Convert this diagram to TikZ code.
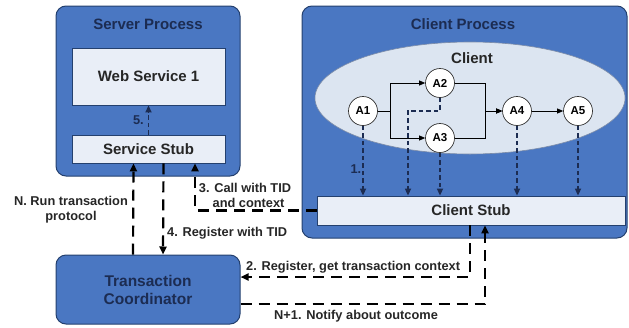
\documentclass[tikz,border=0pt]{standalone}
\usepackage{fontspec}
\setmainfont{Liberation Sans}
\usetikzlibrary{arrows.meta,shapes.geometric}

\definecolor{procblue}{HTML}{4A77C2}
\definecolor{procedge}{HTML}{24406E}
\definecolor{navytext}{HTML}{1C2C52}
\definecolor{paleblue}{HTML}{E9EEF7}
\definecolor{ellblue}{HTML}{DCE5F1}

\tikzset{
  procbox/.style={draw=procedge,line width=1pt,fill=procblue,rounded corners=10pt},
  stubbox/.style={draw=procedge,line width=0.8pt,fill=paleblue,text=black!85,font=\fontsize{15}{17}\selectfont\bfseries},
  acirc/.style={circle,draw=black!80,line width=0.7pt,fill=white,minimum size=29pt,inner sep=0pt,font=\fontsize{11.5}{13}\selectfont\bfseries},
  ttl/.style={text=navytext,font=\fontsize{15}{17}\selectfont\bfseries},
  lbl/.style={text=black!85,font=\fontsize{12.8}{15}\selectfont\bfseries,inner sep=1pt},
  bigdash/.style={line width=2.2pt,dash pattern=on 11pt off 7pt,-{Triangle[length=8pt,width=7pt]}},
  smalldash/.style={line width=1.6pt,dash pattern=on 4.5pt off 3pt,draw=navytext,-{Triangle[length=7pt,width=6pt]}},
  flow/.style={line width=0.8pt,-{Triangle[length=6pt,width=5pt]}}
}

\begin{document}
\begin{tikzpicture}[x=1pt,y=-1pt]
\useasboundingbox (0,0) rectangle (629,327);

%server side
\node[procbox,minimum width=184pt,minimum height=170pt] (server) at (148,91) {};
\node[ttl] (servertitle) at (148,24) {Server Process};
\node[stubbox,minimum width=153pt,minimum height=57pt] (ws) at (148.5,76.5) {Web Service 1};
\node[stubbox,minimum width=153pt,minimum height=28pt] (sstub) at (148.5,149) {Service Stub};

%client side
\node[procbox,minimum width=325pt,minimum height=232pt] (clientproc) at (464.5,122) {};
\node[ttl] (clienttitle) at (463,24) {Client Process};
\node[ellipse,draw=procedge!60,line width=0.6pt,fill=ellblue,minimum width=310pt,minimum height=112pt] (client) at (470,98) {};
\node[ttl,text=black!85] (clientname) at (472,58) {Client};
\node[stubbox,minimum width=308pt,minimum height=29pt] (cstub) at (471,210.5) {Client Stub};

\node[acirc] (a1) at (363,111) {A1};
\node[acirc] (a2) at (440,83) {A2};
\node[acirc] (a3) at (440,138) {A3};
\node[acirc] (a4) at (517,111) {A4};
\node[acirc] (a5) at (578,111) {A5};

%coordinator
\node[procbox,minimum width=184pt,minimum height=69pt,align=center,ttl,font=\fontsize{15.5}{18}\selectfont\bfseries] (tc) at (148,289.5) {Transaction\\Coordinator};

%flow inside client:
\draw[flow] (a1.east) -- ++(13,0) |- (a2.west);
\draw[flow] (a1.east) -- ++(13,0) |- (a3.west);
\draw[flow] (a2.east) -- ++(31,0) |- (a4.west);
\draw[flow] (a3.east) -- ++(31,0) |- (a4.west);
\draw[flow] (a4) -- (a5);

%activities to client stub
\coordinate (bend) at (408,111);
\draw[smalldash] (a1.south) -- (a1 |- cstub.north) node[pos=0.62,left,lbl,text=navytext] {1.};
\draw[smalldash] (a2.south) |- (bend) -- (bend |- cstub.north);
\foreach \a in {a3,a4,a5}
        \draw[smalldash] (\a.south) -- (\a |- cstub.north);

\draw[smalldash] (sstub.north) -- (ws.south) node[midway,left=3pt,lbl,text=navytext] {5.};

%messages:
\draw[bigdash] ([xshift=-15pt]tc.north) -- ([xshift=-15pt]sstub.south);
\node[lbl,align=center] (nlbl) at (71,210) {N. Run transaction\\protocol};

\draw[bigdash] ([xshift=15pt]sstub.south) -- ([xshift=15pt]tc.north);
\node[lbl,anchor=west] (lbl4) at (166,233) {4. Register with TID};

\draw[bigdash] (cstub.west) -| ([xshift=46.5pt]sstub.south);
\node[lbl,align=center] (lbl3) at (245,195.5) {3. Call with TID\\\ \ and context};

\draw[bigdash] ([xshift=-1pt]cstub.south) |- ([yshift=12.5pt]tc.east);
\node[lbl,anchor=west] (lbl2) at (245,267) {2. Register, get transaction context};

\draw[bigdash] ([yshift=-14.5pt]tc.east) -| ([xshift=14pt]cstub.south);
\node[lbl,anchor=west] (lbln1) at (273,316) {N+1. Notify about outcome};

\end{tikzpicture}
\end{document}
